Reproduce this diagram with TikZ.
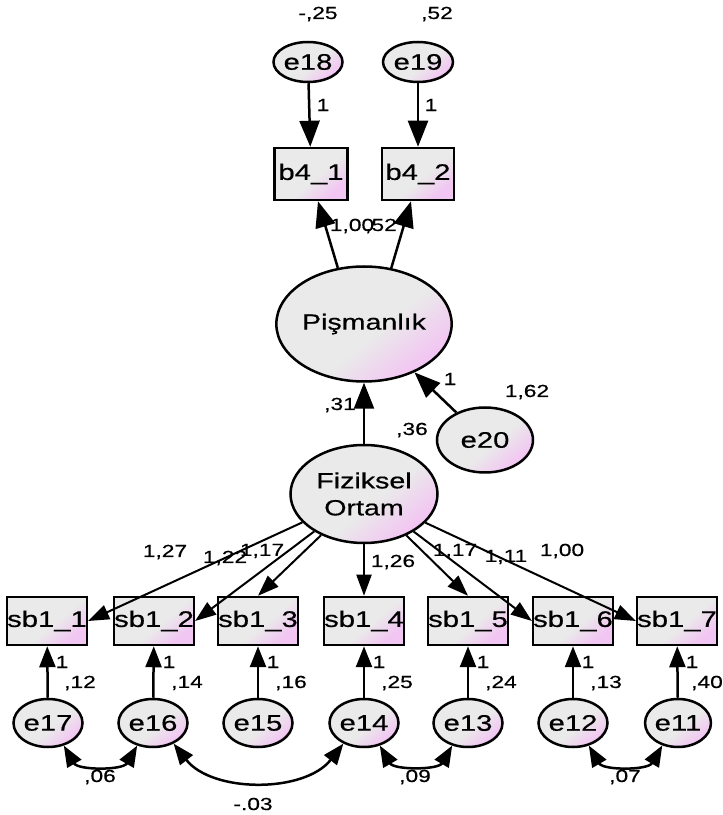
\documentclass[tikz,border=0pt]{standalone}
\usepackage{fontspec}
\setmainfont{Liberation Sans}[FakeStretch=1.3,FakeBold=0.5]
\usetikzlibrary{arrows.meta,shapes.geometric}
\definecolor{graybg}{RGB}{234,234,234}
\definecolor{pinkbg}{RGB}{242,198,242}
\pgfdeclareverticalshading{graypink}{100bp}{color(0bp)=(pinkbg); color(27bp)=(pinkbg); color(45bp)=(graybg); color(100bp)=(graybg)}
\tikzset{
  shadefill/.style={shading=graypink, shading angle=40},
  obs/.style={draw, line width=2.5pt, rectangle, minimum width=72pt, minimum height=48pt, inner sep=0pt, shadefill, font=\fontsize{22.5}{26}\selectfont},
  err/.style={draw, line width=2.5pt, ellipse, minimum width=64pt, minimum height=48pt, inner sep=0pt, shadefill, font=\fontsize{22.5}{26}\selectfont},
  lat/.style={draw, line width=2.5pt, ellipse, inner sep=0pt, shadefill, font=\fontsize{22}{27}\selectfont, align=center},
  arr/.style={-{Triangle[length=21pt,width=16pt]}, line width=2.5pt},
  bigarr/.style={-{Triangle[length=26pt,width=20pt]}, line width=2.5pt},
  load/.style={-{Triangle[length=21pt,width=15pt]}, line width=2pt},
  cov/.style={{Triangle[length=21pt,width=16pt]}-{Triangle[length=21pt,width=16pt]}, line width=2.5pt},
  lbl/.style={inner sep=0pt, font=\fontsize{17.5}{19}\selectfont}
}
\begin{document}
\begin{tikzpicture}[x=1pt,y=1pt]
\useasboundingbox (0,0) rectangle (723,815);
% top
\node[err, minimum width=67pt, minimum height=40pt] (e18) at (308,753) {e18};
\node[err, minimum width=70pt, minimum height=40pt] (e19) at (418,753) {e19};
\node[obs, minimum width=73pt, minimum height=52pt] (b41) at (311,641) {b4\_1};
\node[obs, minimum width=72pt, minimum height=52pt] (b42) at (418,641) {b4\_2};
\node[lat, minimum width=147pt, minimum height=115pt] (pis) at (364,491) {Pişmanlık};
\node[err, minimum width=96pt, minimum height=65pt] (e20) at (485,375) {e20};
\node[lat, minimum width=147pt, minimum height=98pt] (fiz) at (364,321) {Fiziksel\\Ortam};
% bottom boxes
\foreach \n/\x in {1/47,2/154,3/258,4/364,5/468,6/573,7/677}{
  \node[obs] (sb\n) at (\x,194) {sb1\_\n};
}
\foreach \n/\x in {17/48,16/153,15/258,14/364,13/468,12/573,11/678}{
  \node[err] (e\n) at (\x,92) {e\n};
}
% arrows top
\draw[bigarr] (e18) -- (b41);
\draw[bigarr] (e19) -- (b42);
\draw[bigarr] (pis.115) -- ([xshift=7pt]b41.south);
\draw[bigarr] (pis.64) -- ([xshift=-7pt]b42.south);
\draw[bigarr] (e20) -- (pis);
\draw[bigarr] (fiz) -- (pis);
% loadings
\draw[load] (fiz) -- (sb1.east);
\draw[load] (fiz) -- (sb2.east);
\draw[load] (fiz) -- (sb3.north);
\draw[load] (fiz) -- (sb4.north);
\draw[load] (fiz) -- (sb5.north);
\draw[load] (fiz) -- (sb6.west);
\draw[load] (fiz) -- (sb7.west);
% error arrows
\draw[arr] (e17) -- (sb1);
\draw[arr] (e16) -- (sb2);
\draw[arr] (e15) -- (sb3);
\draw[arr] (e14) -- (sb4);
\draw[arr] (e13) -- (sb5);
\draw[arr] (e12) -- (sb6);
\draw[arr] (e11) -- (sb7);
% covariances
\draw[cov] (e17.-55) to[out=-60,in=-120] (e16.-125);
\draw[cov] (e16.-45) to[out=-52,in=-128,looseness=0.95] (e14.-135);
\draw[cov] (e14.-55) to[out=-60,in=-120] (e13.-125);
\draw[cov] (e12.-55) to[out=-60,in=-120] (e11.-125);
% labels top
\node[lbl] (l1) at (318,801) {-,25};
\node[lbl] (l2) at (437,801) {,52};
\node[lbl] (l3) at (323,710) {1};
\node[lbl] (l4) at (431,710) {1};
\node[lbl] (l5) at (352,589) {1,00};
\node[lbl] (l6) at (381,589) {,52};
\node[lbl] (l7) at (340,410) {,31};
\node[lbl] (l8) at (450,436) {1};
\node[lbl] (l9) at (527,423) {1,62};
\node[lbl] (l10) at (412,385) {,36};
% loading labels
\node[lbl] (m1) at (165,263) {1,27};
\node[lbl] (m2) at (225,257) {1,22};
\node[lbl] (m3) at (262,264) {1,17};
\node[lbl] (m4) at (393,253) {1,26};
\node[lbl] (m5) at (455,264) {1,17};
\node[lbl] (m6) at (506,258) {1,11};
\node[lbl] (m7) at (562,264) {1,00};
% error labels
\foreach \n/\x/\v in {1/47/{,12},2/154/{,14},3/258/{,16},4/364/{,25},5/468/{,24},6/573/{,13}}{
  \node[lbl] (o\n) at (\x+15,153) {1};
  \node[lbl] (v\n) at (\x+33,132) {\v};
}
\node[lbl] (o7) at (692,153) {1};
\node[lbl] (v7) at (707,132) {,40};
\node[lbl] (c1) at (100,38) {,06};
\node[lbl] (c2) at (253,11) {-.03};
\node[lbl] (c3) at (415,38) {,09};
\node[lbl] (c4) at (625,38) {,07};
\end{tikzpicture}
\end{document}
